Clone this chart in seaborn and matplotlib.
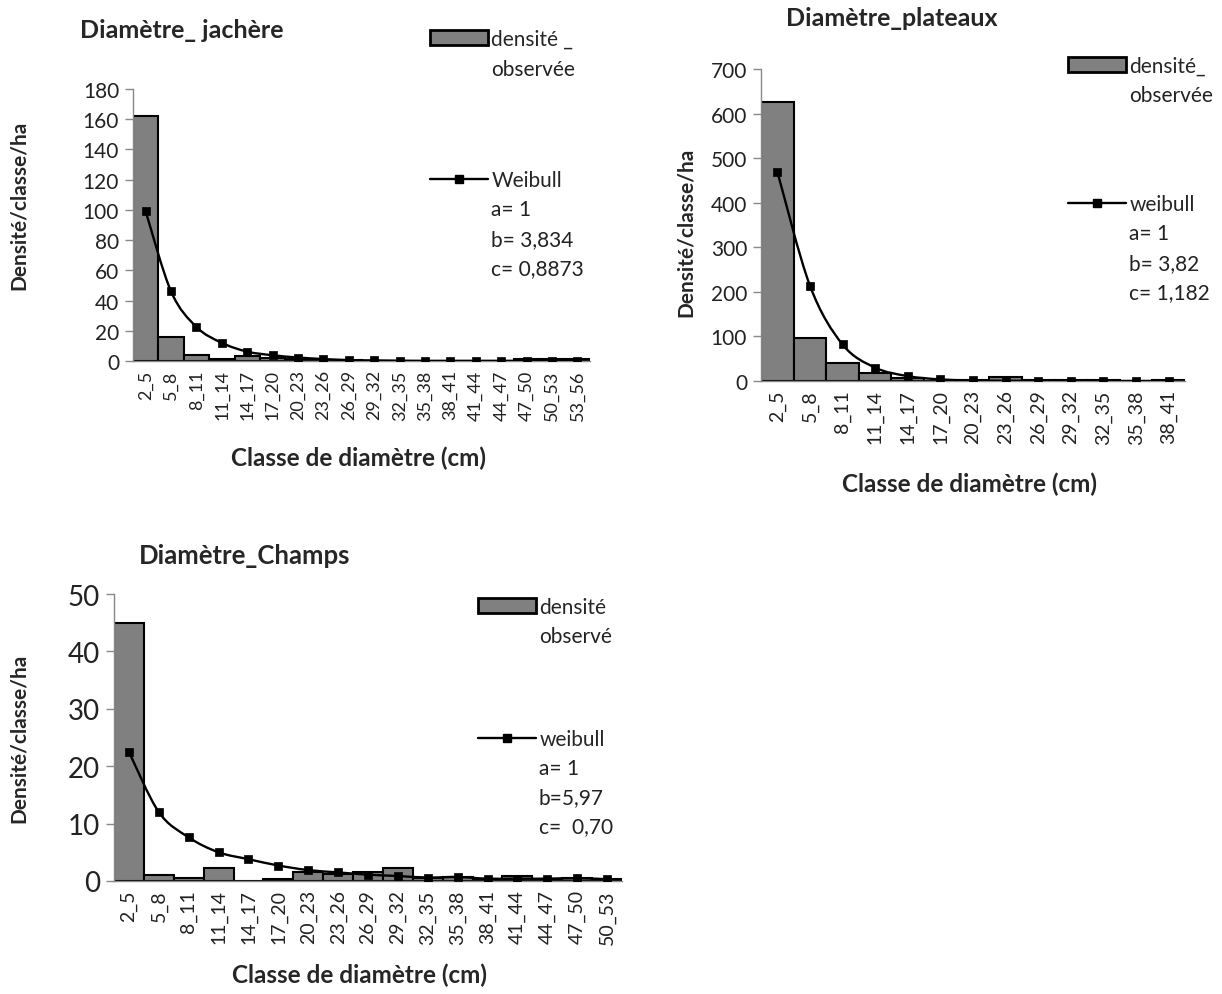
import matplotlib
matplotlib.use("Agg")
import numpy as np
import seaborn as sns
from matplotlib import pyplot as plt
from matplotlib.patches import Patch, PathPatch
from matplotlib.lines import Line2D
from matplotlib.path import Path

jachere_classes = ["2_5", "5_8", "8_11", "11_14", "14_17", "17_20", "20_23",
                   "23_26", "26_29", "29_32", "32_35", "35_38", "38_41",
                   "41_44", "44_47", "47_50", "50_53", "53_56"]
jachere_obs = [162, 16, 4, 1, 3.5, 2, 1, 0.8, 0.5, 0.3, 0.3, 0.3, 0.3,
               0.3, 0.3, 1, 1, 1]
jachere_weibull = [99, 46, 22.5, 12, 6.2, 3.8, 2.3, 1.3, 0.6, 0.4, 0.2,
                   0.1, 0.1, 0.1, 0.1, 0.1, 0.1, 0.1]

plateaux_classes = ["2_5", "5_8", "8_11", "11_14", "14_17", "17_20",
                    "20_23", "23_26", "26_29", "29_32", "32_35", "35_38",
                    "38_41"]
plateaux_obs = [625, 97, 40, 19, 6, 1, 2, 8, 2, 1.5, 2, 0.5, 3]
plateaux_weibull = [470, 214, 82, 30, 11, 3.5, 1.5, 0.5, 0.2, 0.1, 0.1,
                    0.1, 0.1]

champs_classes = ["2_5", "5_8", "8_11", "11_14", "14_17", "17_20", "20_23",
                  "23_26", "26_29", "29_32", "32_35", "35_38", "38_41",
                  "41_44", "44_47", "47_50", "50_53"]
champs_obs = [45, 1.0, 0.6, 2.2, 0, 0.4, 1.6, 1.2, 1.5, 2.2, 0.5, 0.7, 0.3,
              0.8, 0.4, 0.6, 0.3]
champs_weibull = [22.5, 12, 7.6, 5.0, 3.8, 2.7, 1.9, 1.5, 1.1, 0.87, 0.6,
                  0.7, 0.4, 0.4, 0.4, 0.5, 0.3]

BAR_COLOR = "#808080"
TEXT_COLOR = "#222222"
FONT = ["Lato", "DejaVu Sans"]

sns.set_theme(style="white")
plt.rcParams["font.family"] = FONT

W, H = 1222, 995
fig = plt.figure(figsize=(W / 100, H / 100), dpi=100)


def fx(px):
    return px / W


def fy(py):
    return 1 - py / H


def smooth_path(xs, ys):
    # Excel-style smoothed line: cubic Bezier segments through every point
    pts = np.column_stack([xs, ys]).astype(float)
    verts = [pts[0]]
    codes = [Path.MOVETO]
    n = len(pts)
    for i in range(n - 1):
        p0 = pts[max(i - 1, 0)]
        p1 = pts[i]
        p2 = pts[i + 1]
        p3 = pts[min(i + 2, n - 1)]
        c1 = p1 + (p2 - p0) / 6
        c2 = p2 - (p3 - p1) / 6
        verts += [c1, c2, p2]
        codes += [Path.CURVE4] * 3
    return Path(verts, codes)


def draw_panel(rect, classes, obs, weib, ymax, ystep, ytick_size, xtick_size):
    left, top, right, bottom = rect
    ax = fig.add_axes([fx(left), fy(bottom), fx(right - left),
                       fy(top) - fy(bottom)])
    sns.barplot(x=classes, y=obs, color=BAR_COLOR, saturation=1, width=1.0,
                edgecolor="black", linewidth=1.5, ax=ax)
    xs = np.arange(len(classes))
    ax.add_patch(PathPatch(smooth_path(xs, weib), fill=False,
                           edgecolor="black", linewidth=1.7, zorder=4))
    sns.scatterplot(x=xs, y=weib, color="black", marker="s", s=38,
                    edgecolor="black", linewidth=0.5, zorder=5, ax=ax)
    ax.set_xlim(-0.5, len(classes) - 0.5)
    ax.set_ylim(0, ymax)
    ax.set_yticks(np.arange(0, ymax + 1, ystep))
    ax.set_xticks(xs)
    ax.set_xticklabels(classes, rotation=90, fontsize=xtick_size,
                       color=TEXT_COLOR)
    ax.tick_params(axis="y", labelsize=ytick_size, length=6, width=1,
                   color="#888888", labelcolor=TEXT_COLOR, left=True, pad=4)
    ax.tick_params(axis="x", length=0, pad=6)
    ax.set_xlabel("")
    ax.set_ylabel("")
    for side in ("top", "right"):
        ax.spines[side].set_visible(False)
    for side in ("left", "bottom"):
        ax.spines[side].set_color("#888888")
        ax.spines[side].set_linewidth(1)
    return ax


def add_legends(ax, bar_pos, bar_lines, line_pos, line_lines, size, step):
    bar_handle = Patch(facecolor=BAR_COLOR, edgecolor="black", linewidth=2)
    line_handle = Line2D([], [], color="black", linewidth=1.7, marker="s",
                         markersize=6)
    leg1 = ax.legend([bar_handle], [bar_lines[0]], loc="center left",
                     bbox_to_anchor=(fx(bar_pos[0]), fy(bar_pos[1])),
                     bbox_transform=fig.transFigure, frameon=False,
                     borderpad=0, borderaxespad=0, handlelength=2.8,
                     handleheight=0.75, handletextpad=0.15,
                     prop={"family": FONT, "size": size})
    ax.add_artist(leg1)
    ax.legend([line_handle], [line_lines[0]], loc="center left",
              bbox_to_anchor=(fx(line_pos[0]), fy(line_pos[1])),
              bbox_transform=fig.transFigure, frameon=False,
              borderpad=0, borderaxespad=0, handlelength=2.8,
              handletextpad=0.15, prop={"family": FONT, "size": size})
    tx = bar_pos[0] + 61
    for i, line in enumerate(bar_lines[1:], start=1):
        fig.text(fx(tx), fy(bar_pos[1] + i * step), line, fontsize=size,
                 va="center", ha="left", color=TEXT_COLOR)
    tx = line_pos[0] + 61
    for i, line in enumerate(line_lines[1:], start=1):
        fig.text(fx(tx), fy(line_pos[1] + i * step), line, fontsize=size,
                 va="center", ha="left", color=TEXT_COLOR)


# Diamètre_ jachère
ax1 = draw_panel((133, 90, 590, 362), jachere_classes, jachere_obs,
                 jachere_weibull, 180, 20, 15, 13)
fig.text(fx(80), fy(31), "Diamètre_ jachère", fontsize=18, weight="bold",
         ha="left", va="center")
fig.text(fx(19), fy(205), "Densité/classe/ha", fontsize=15, weight="bold",
         rotation=90, ha="center", va="center")
fig.text(fx(358), fy(458), "Classe de diamètre (cm)", fontsize=17.5,
         weight="bold", ha="center", va="center")
add_legends(ax1, (430, 40), ["densité _", "observée"], (430, 181),
            ["Weibull", "a= 1", "b= 3,834", "c= 0,8873"], 15, 29.5)

# Diamètre_plateaux
ax2 = draw_panel((761, 70, 1185, 382), plateaux_classes, plateaux_obs,
                 plateaux_weibull, 700, 100, 15, 14)
fig.text(fx(892), fy(18), "Diamètre_plateaux", fontsize=18, weight="bold",
         ha="center", va="center")
fig.text(fx(686), fy(232), "Densité/classe/ha", fontsize=15, weight="bold",
         rotation=90, ha="center", va="center")
fig.text(fx(970), fy(484), "Classe de diamètre (cm)", fontsize=17.5,
         weight="bold", ha="center", va="center")
add_legends(ax2, (1068, 67), ["densité_", "observée"], (1068, 205),
            ["weibull", "a= 1", "b= 3,82", "c= 1,182"], 15, 29.5)

# Diamètre_Champs
ax3 = draw_panel((114, 595, 622, 882), champs_classes, champs_obs,
                 champs_weibull, 50, 10, 20, 14)
fig.text(fx(245), fy(556), "Diamètre_Champs", fontsize=18.5, weight="bold",
         ha="center", va="center")
fig.text(fx(19), fy(738), "Densité/classe/ha", fontsize=15, weight="bold",
         rotation=90, ha="center", va="center")
fig.text(fx(360), fy(975), "Classe de diamètre (cm)", fontsize=17.5,
         weight="bold", ha="center", va="center")
add_legends(ax3, (478, 608), ["densité", "observé"], (478, 740),
            ["weibull", "a= 1", "b=5,97", "c=  0,70"], 15, 29)

fig.savefig("out.png", dpi=100)
